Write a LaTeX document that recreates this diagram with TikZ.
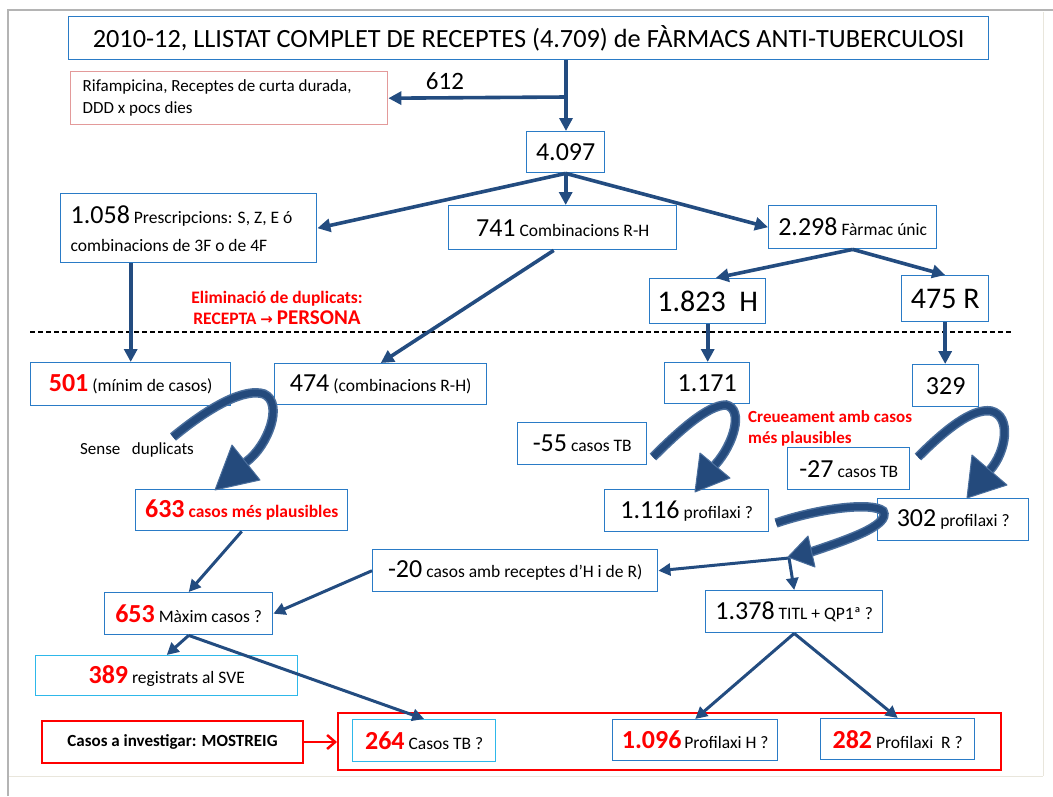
\documentclass[tikz,border=0pt]{standalone}
\usepackage{fontspec}
\setmainfont{Carlito}
\newfontfamily\symfont{DejaVu Sans}
\usetikzlibrary{arrows.meta}
\definecolor{boxblue}{HTML}{2A7BC6}
\definecolor{cyanbox}{HTML}{2EB8EA}
\definecolor{arrblue}{HTML}{234C80}
\definecolor{curlfill}{HTML}{244A7C}
\definecolor{curledge}{HTML}{4A6E9C}
\definecolor{pinkline}{HTML}{E39A9A}
\definecolor{rred}{HTML}{FF0000}
\definecolor{framegray}{HTML}{B4B4B4}
\definecolor{framelight}{HTML}{E9E6DC}
\newcommand\szB{\fontsize{26}{30}\selectfont}
\newcommand\szS{\fontsize{17.5}{22}\selectfont}
\newcommand\szH{\fontsize{30}{34}\selectfont}
\newcommand\rnum[1]{\textbf{\color{rred}\szB #1}}
\tikzset{
  box/.style={draw=boxblue, line width=1.4pt, fill=white, inner sep=0pt,
    anchor=north west, font=\szS},
  cbox/.style={box, draw=cyanbox},
  rbox/.style={box, draw=rred, line width=2pt},
  arr/.style={draw=arrblue, line width=3.6pt, -{Triangle[length=13pt,width=13pt]}},
  thinarr/.style={draw=arrblue, line width=3pt, -{Triangle[length=12pt,width=12pt]}},
  curlout/.style={draw=curledge, line width=9.5pt},
  curlin/.style={draw=curlfill, line width=6.5pt},
  curlhead/.style={fill=curlfill, draw=curledge, line width=1pt, line join=round},
  lbl/.style={inner sep=0pt},
}
\begin{document}
\begin{tikzpicture}[x=1pt,y=-1pt]
\useasboundingbox (0,0) rectangle (1053,796);
% slide frame
\draw[framelight, line width=1pt] (8,776) -- (1043,776) (1043,12) -- (1043,776);
\draw[framegray, line width=1.5pt] (8,796) -- (8,10) -- (1053,10);

% upper part: prescriptions
\node[box, minimum width=920pt, minimum height=43pt, font=\fontsize{26.3}{30}\selectfont] (title) at (68,16)
  {2010-12, LLISTAT COMPLET DE RECEPTES (4.709) de FÀRMACS ANTI-TUBERCULOSI};
\node[box, draw=pinkline, minimum height=53pt, text width=293pt, inner xsep=12pt, align=flush left,
  font=\fontsize{17}{22}\selectfont] (rif) at (70,71)
  {Rifampicina, Receptes de curta durada,\\DDD x pocs dies};
\node[lbl, font=\fontsize{25}{28}\selectfont] (l612) at (445,81) {612};
\node[box, minimum width=78pt, minimum height=41pt, font=\szB] (n4097) at (526,131) {4.097};
\node[box, minimum height=69pt, text width=236pt, inner xsep=10pt, align=flush left,
  font=\fontsize{17.5}{28}\selectfont] (n1058) at (60,193)
  {{\szB 1.058} Prescripcions: S, Z, E ó\\combinacions de 3F o de 4F};
\node[box, minimum width=228pt, minimum height=44pt] (n741) at (448,205) {{\szB 741} Combinacions R-H};
\node[box, minimum width=168pt, minimum height=43pt] (n2298) at (768,205) {{\szB 2.298} Fàrmac únic};
\node[box, minimum width=116pt, minimum height=45pt, font=\szH] (n1823) at (649,278) {1.823~~H};
\node[box, minimum width=87pt, minimum height=46pt, font=\szH] (n475) at (901,275) {475 R};

% separation: prescriptions -> persons
\node[lbl, align=center, text=rred, font=\bfseries\fontsize{17.5}{21}\selectfont] (elim) at (277,308)
  {Eliminació de duplicats:\\RECEPTA {\symfont\fontsize{15}{15}\selectfont →} {\fontsize{21}{21}\selectfont PERSONA}};
\draw[black, line width=1.2pt, dash pattern=on 5pt off 3pt] (30,332) -- (1013,332);

% lower left
\node[box, minimum width=200pt, minimum height=43pt] (n501) at (30,362) {\rnum{501} (mínim de casos)};
\node[box, minimum width=212pt, minimum height=41pt] (n474) at (274,363) {{\szB 474} (combinacions R-H)};
\node[lbl, font=\fontsize{17}{20}\selectfont] (sense) at (137,450) {Sense~~~duplicats};
\node[box, minimum width=212pt, minimum height=41pt, font=\bfseries\szS, text=rred] (n633) at (135,489)
  {{\szB 633} casos més plausibles};
\node[box, minimum width=285pt, minimum height=42pt] (n20) at (372,549) {{\szB -20} casos amb receptes d’H i de R)};
\node[box, minimum width=168pt, minimum height=42pt] (n653) at (104,592) {\rnum{653} Màxim casos ?};
\node[cbox, minimum width=262pt, minimum height=40pt] (n389) at (35,655) {\rnum{389} registrats al SVE};

% lower right
\node[box, minimum width=85pt, minimum height=41pt, font=\szB] (n1171) at (664,362) {1.171};
\node[box, minimum width=66pt, minimum height=42pt, font=\szB] (n329) at (912,364) {329};
\node[lbl, anchor=north west, align=left, text=rred, font=\bfseries\fontsize{17}{21}\selectfont] (creu) at (748,410)
  {Creueament amb casos\\més plausibles};
\node[box, minimum width=129pt, minimum height=42pt] (n55) at (517,422) {{\szB -55} casos TB};
\node[box, minimum width=122pt, minimum height=42pt] (n27) at (787,447) {{\szB -27} casos TB};
\node[box, minimum width=164pt, minimum height=42pt] (n1116) at (604,489) {{\szB 1.116} profilaxi ?};
\node[box, minimum width=151pt, minimum height=42pt] (n302) at (877,498) {{\szB 302} profilaxi ?};
\node[box, minimum width=177pt, minimum height=42pt] (n1378) at (705,590) {{\szB 1.378} TITL + QP1ª ?};

% cases to investigate
\node[rbox, minimum width=663pt, minimum height=57pt] (sample) at (337,712) {};
\node[rbox, minimum width=261pt, minimum height=42pt, font=\bfseries\fontsize{17}{20}\selectfont] (casos) at (41,720)
  {Casos a investigar: MOSTREIG};
\node[cbox, minimum width=143pt, minimum height=42pt] (n264) at (352,719) {\rnum{264} Casos TB ?};
\node[box, minimum width=165pt, minimum height=41pt] (n1096) at (612,719) {\rnum{1.096}\,Profilaxi H ?};
\node[box, minimum width=154pt, minimum height=41pt] (n282) at (820,718) {\rnum{282} Profilaxi~ R ?};

% straight connectors
\coordinate (j1) at (566,97);
\draw[draw=arrblue, line width=3.6pt] (title.south -| j1) -- (j1);
\draw[arr] (j1) -- (rif.east);
\draw[arr] (j1) -- (n4097.north -| j1);
\draw[arr] (n4097.south) -- (n1058.east);
\draw[arr] (n4097.south) -- (n741.north -| n4097.south);
\draw[arr] (n4097.south) -- (n2298.west);
\draw[arr] (n2298.south) -- ([xshift=8pt]n1823.north);
\draw[arr] (n2298.south) -- (n475.north);
\draw[arr] (n1058.south -| n501.north) -- (n501.north);
\draw[arr] ([xshift=-9pt]n741.south) -- (n474.north);
\draw[arr] (n1823.south) -- (n1823.south |- n1171.north);
\draw[arr] (n475.south) -- (n475.south |- n329.north);
\draw[thinarr] (n633.south) -- (n653.north);
\draw[thinarr] (n653.south) -- (n389.north);
\draw[thinarr] (n653.south) -- (n264.north);
\draw[thinarr] (n20.west) -- (n653.east);
\coordinate (j2) at (789,558);
\draw[thinarr] (j2) -- (n20.east);
\draw[thinarr] (j2) -- (n1378.north);
\draw[thinarr] (n1378.south) -- (n1096.north);
\draw[thinarr] (n1378.south) -- (n282.north);
\draw[draw=rred, line width=2.5pt, -{Straight Barb[length=8pt,width=14pt]}] (casos.east) -- (sample.west |- casos.east);

% curved arrows
\foreach \s in {curlout, curlin} {
  \draw[\s] (173,437) .. controls (212,405) and (245,388) .. (264,394)
                      .. controls (284,403) and (268,446) .. (246,462);
  \draw[\s] (653,457) .. controls (680,430) and (708,405) .. (726,405)
                      .. controls (744,409) and (734,444) .. (715,465);
  \draw[\s] (918,457) .. controls (945,430) and (972,408) .. (991,411)
                      .. controls (1012,416) and (1006,452) .. (990,470);
  \draw[\s] (776,523) .. controls (820,508) and (872,502) .. (883,511)
                      .. controls (892,526) and (840,542) .. (811,552);
}
\draw[curlhead] (232,445) -- (260,480) -- (215,490) -- cycle;
\draw[curlhead] (700,453) -- (730,478) -- (695,492) -- cycle;
\draw[curlhead] (972,455) -- (1007,485) -- (967,498) -- cycle;
\draw[curlhead] (808,536) -- (815,567) -- (788,557) -- cycle;
\end{tikzpicture}
\end{document}
